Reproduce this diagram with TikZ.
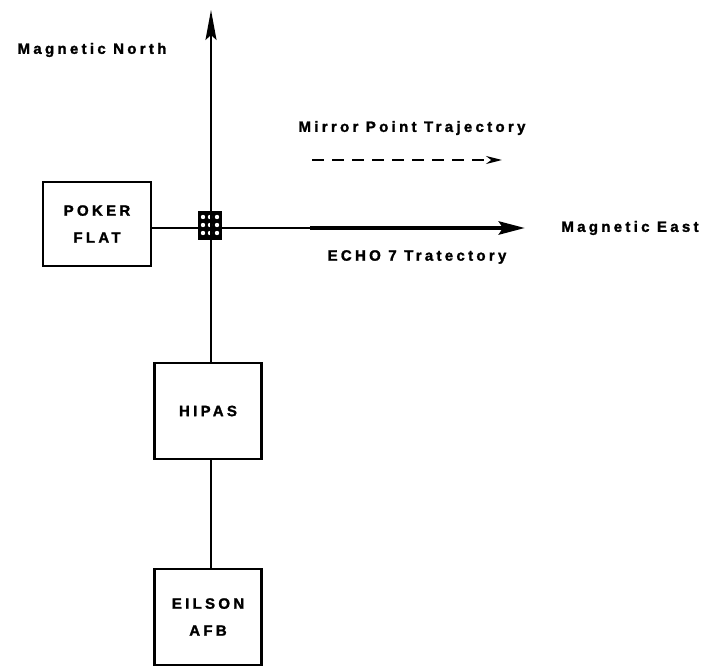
\documentclass[tikz,border=0pt]{standalone}
\usepackage{fontspec}
\setmainfont{Liberation Sans}[LetterSpace=22,BoldFeatures={FakeBold=1.6}]
\usetikzlibrary{arrows.meta,positioning,calc}
\tikzset{lbl/.style={font=\fontsize{15}{27}\selectfont\bfseries,inner sep=0pt,align=center},box/.style={lbl,draw=black,line width=2.4pt,minimum width=107pt,minimum height=96pt},axis/.style={draw=black,line width=1.9pt},arrow/.style={axis,-{Stealth[length=30pt,width=11pt,inset=5pt]}}}
\begin{document}
\begin{tikzpicture}[x=1pt,y=-1pt]
\useasboundingbox (0,0) rectangle (708,668);
\node[box,minimum width=108pt,minimum height=84pt] (poker) at (97,224) {POKER\\FLAT};
\node[box] (hipas) at (208,411) {HIPAS};
\node[box] (eilson) at (208,617) {EILSON\\AFB};
\node[fill=black,minimum width=24pt,minimum height=29pt,inner sep=0pt] (xing) at (210,225) {};
\foreach \i in {-1,0,1}{\foreach \j in {-1,0,1}{\fill[white] ($(xing)+(\i*7,\j*8)$) circle (2.2);}}
\coordinate (north) at (211,10);
\coordinate (echo) at (310,228);
\coordinate (east) at (525,228);
\coordinate (mpS) at (312,160);
\coordinate (mpE) at (502,160);
\node[lbl] (mn) at (92,50) {Magnetic North};
\node[lbl] (me) at (630,228) {Magnetic East};
\node[lbl] (mp) at (412,128) {Mirror Point Trajectory};
\node[lbl] (ech) at (417,257) {ECHO 7 Tratectory};
\draw[arrow] (hipas.north -| north) -- (north);
\draw[axis] (poker.east |- east) -- (xing.west |- east);
\draw[axis] (xing.east |- east) -- (echo);
\draw[arrow,line width=4.5pt,-{Stealth[length=26pt,width=13pt,inset=4pt]}] (echo) -- (east);
\draw[axis] (hipas.south -| north) -- (eilson.north -| north);
\draw[axis,dashed,dash pattern=on 12pt off 8pt,-{Stealth[length=16pt,width=8pt]}] (mpS) -- (mpE);
\end{tikzpicture}
\end{document}
